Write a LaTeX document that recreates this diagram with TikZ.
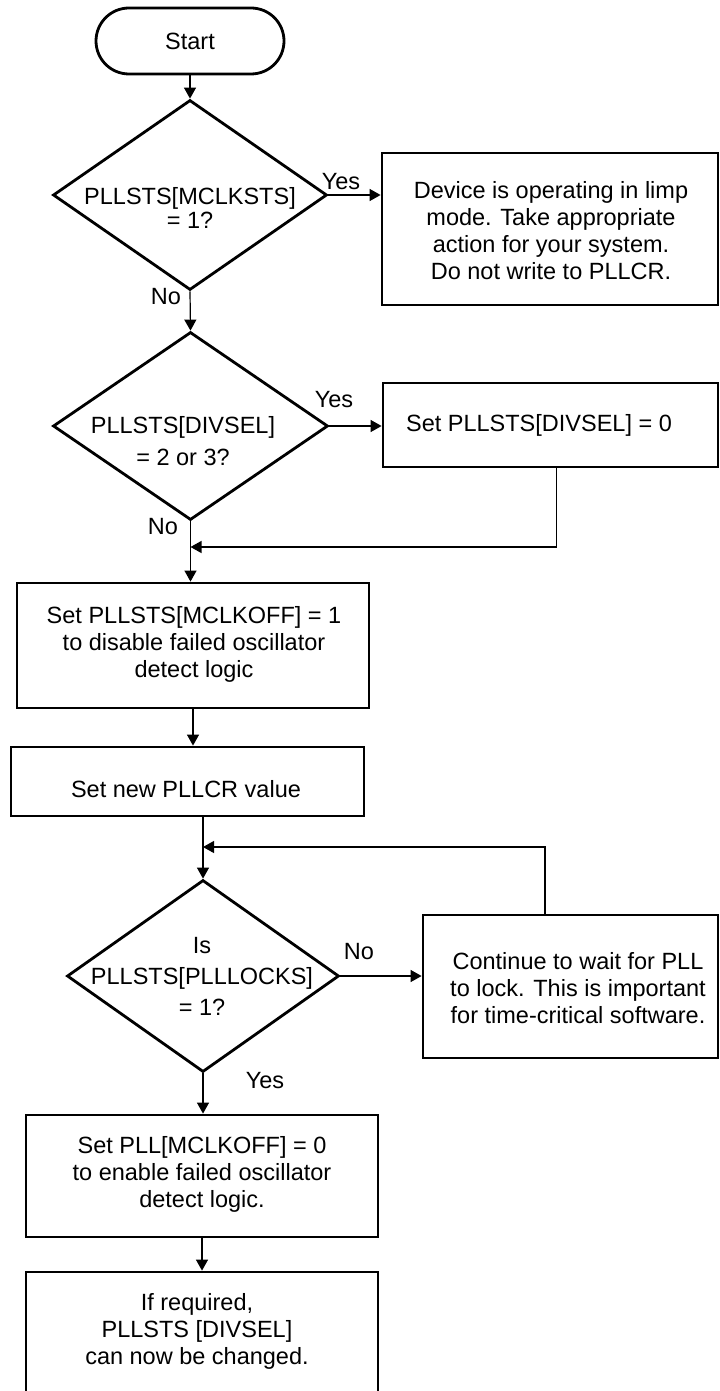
\documentclass[tikz,border=0pt]{standalone}
\usepackage{fontspec}
\setmainfont{Liberation Sans}
\usetikzlibrary{arrows.meta,shapes.geometric}
\begin{document}
\begin{tikzpicture}[x=0.5pt,y=-0.5pt,
  every node/.style={font=\fontsize{11.75}{13.5}\selectfont, inner sep=0pt},
  box/.style={draw, line width=1.4pt, rectangle},
  dia/.style={draw, line width=1.4pt, diamond},
  term/.style={draw, line width=1.4pt, rectangle, rounded corners=16.5pt},
  txt/.style={align=center},
  conn/.style={line width=0.6pt, -{Triangle[length=5.5pt,width=6pt]}}]
\useasboundingbox (0,0) rectangle (719,1391);
\clip (0,0) rectangle (719,1391);

% shapes
\node[term, minimum width=94pt, minimum height=33pt] (start) at (190,41) {Start};
\node[dia, minimum width=137pt, minimum height=95pt] (d1) at (190,195) {};
\node[txt] (d1t) at (190,208) {PLLSTS[MCLKSTS]\\[-1.5pt]= 1?};
\node[box, minimum width=168pt, minimum height=76pt] (b1) at (550,229) {};
\node[txt] (b1t) at (551,231) {Device is operating in limp\\mode. Take appropriate\\action for your system.\\Do not write to PLLCR.};

\node[dia, minimum width=137.5pt, minimum height=94pt] (d2) at (190.5,426) {};
\node[txt] (d2t) at (183,441) {PLLSTS[DIVSEL]\\[2.5pt]= 2 or 3?};
\node[box, minimum width=167.5pt, minimum height=42pt] (b2) at (550.5,425) {};
\node (b2t) at (539,425) {Set PLLSTS[DIVSEL] = 0};

\node[box, minimum width=176pt, minimum height=62.5pt] (b3) at (193,645.5) {};
\node[txt] (b3t) at (194,644) {Set PLLSTS[MCLKOFF] = 1\\to disable failed oscillator\\detect logic};

\node[box, minimum width=176.5pt, minimum height=34.5pt] (b4) at (187.5,781.5) {};
\node (b4t) at (186,789) {Set new PLLCR value};

\node[dia, minimum width=136pt, minimum height=96pt] (d3) at (203,976) {};
\node[txt] (d3t) at (202,976) {Is\\[2pt]PLLSTS[PLLLOCKS]\\[2pt]= 1?};
\node[box, minimum width=147.5pt, minimum height=71.5pt] (b5) at (570.5,986.5) {};
\node[txt] (b5t) at (578,988) {Continue to wait for PLL\\to lock. This is important\\for time-critical software.};

\node[box, minimum width=176pt, minimum height=61pt] (b6) at (202,1176) {};
\node[txt] (b6t) at (202,1174) {Set PLL[MCLKOFF] = 0\\to enable failed oscillator\\detect logic.};

\node[box, minimum width=176pt, minimum height=69pt] (b7) at (202,1341) {};
\node[txt] (b7t) at (197,1331) {If required,\\PLLSTS [DIVSEL]\\can now be changed.};

% labels
\node (yes1) at (341,182) {Yes};
\node (no1) at (166,297) {No};
\node (yes2) at (334,400) {Yes};
\node (no2) at (163,527) {No};
\node (no3) at (359,952) {No};
\node (yes3) at (265,1081) {Yes};

% connectors
\coordinate (j1) at (d2.south |- 0,547);
\coordinate (j2) at (d3.north |- 0,847);
\draw[conn] (start.south) -- (d1.north);
\draw[conn] (d1.east) -- (d1.east -| b1.west);
\draw[conn] (d1.south) -- (d2.north);
\draw[conn] (d2.east) -- (d2.east -| b2.west);
\draw[conn] ([xshift=3pt]b2.south) |- (j1);
\draw[conn] (d2.south) -- (d2.south |- b3.north);
\draw[conn] (b3.south) -- (b3.south |- b4.north);
\draw[conn] (d3.north |- b4.south) -- (d3.north);
\draw[conn] ([xshift=-12.75pt]b5.north) |- (j2);
\draw[conn] (d3.east) -- (d3.east -| b5.west);
\draw[conn] (d3.south) -- (d3.south |- b6.north);
\draw[conn] (b6.south) -- (b7.north);
\end{tikzpicture}
\end{document}
